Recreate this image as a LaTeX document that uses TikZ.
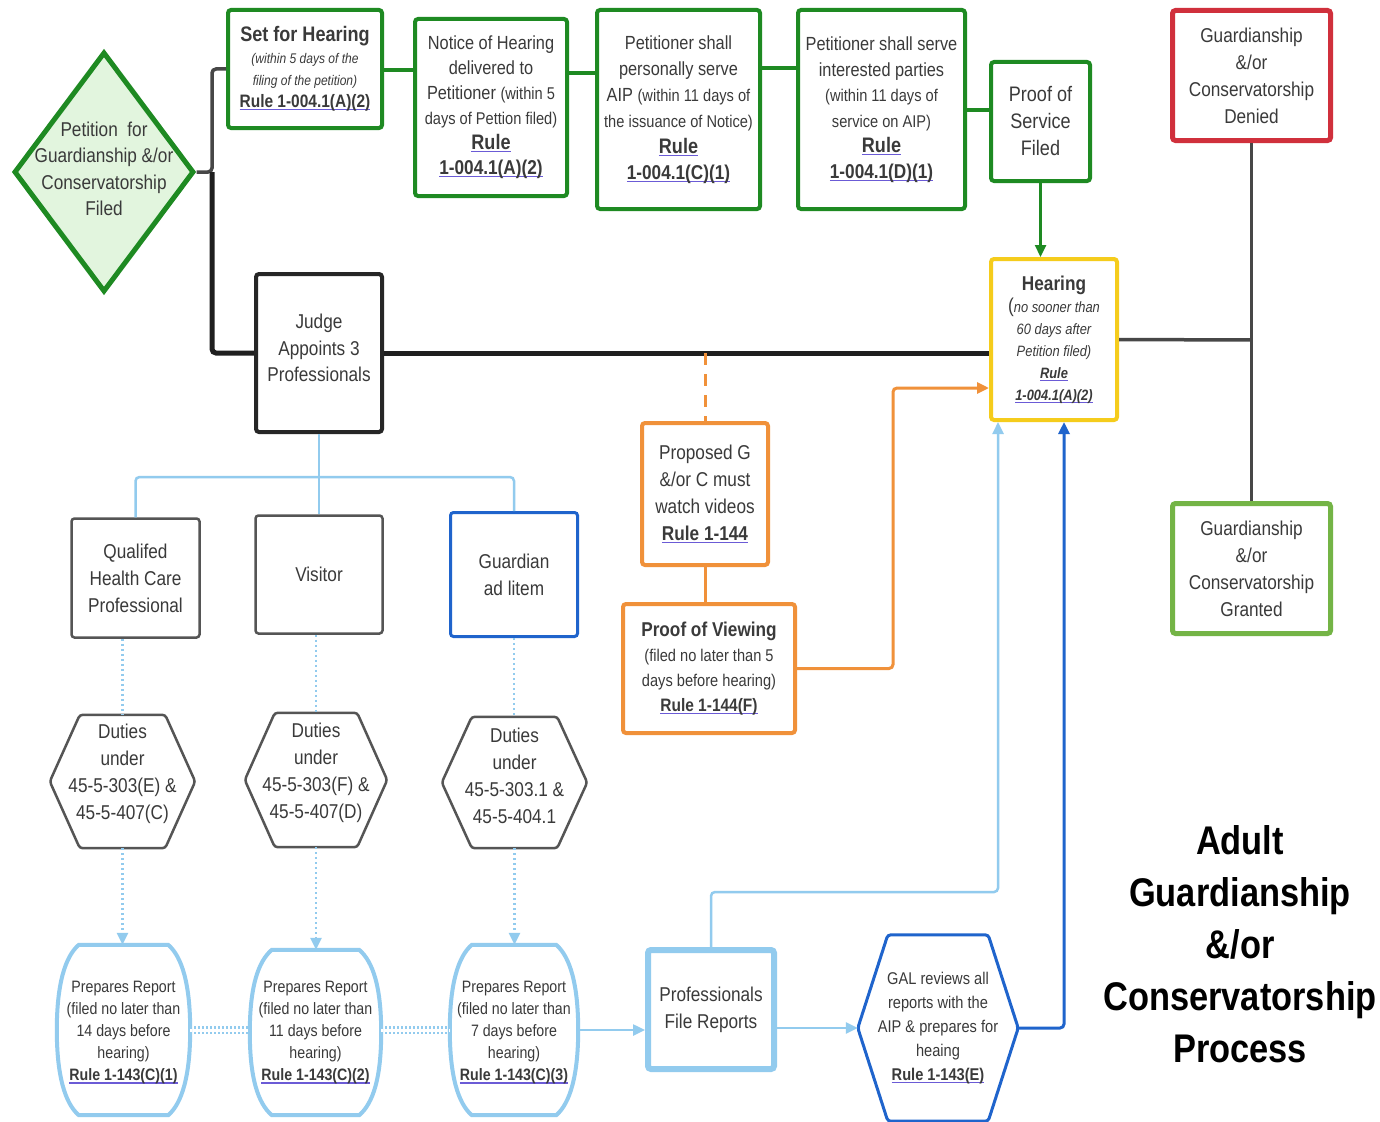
\documentclass[tikz,border=0pt]{standalone}
\usepackage{fontspec}
\setmainfont{Liberation Sans}[FakeStretch=0.86]
\usetikzlibrary{shapes.geometric,arrows.meta}
\definecolor{gbord}{HTML}{1E8A22}
\definecolor{gfill}{HTML}{E2F5DE}
\definecolor{redb}{HTML}{D0303C}
\definecolor{yelb}{HTML}{F5CC1C}
\definecolor{lgreen}{HTML}{74B446}
\definecolor{orb}{HTML}{F0913A}
\definecolor{lblue}{HTML}{92CBEE}
\definecolor{dblue}{HTML}{1F64CC}
\definecolor{txt}{HTML}{3A3A3A}
\definecolor{gbox}{HTML}{555555}
\definecolor{ulc}{HTML}{6B5BD6}
\newcommand\rul[1]{\setbox0\hbox{#1}\rlap{\color{ulc}\rule[-2.6pt]{\wd0}{1.1pt}}\box0}
\newcommand\fs[2]{\fontsize{#1}{#2}\selectfont}
\newcommand\hexat[3]{\draw[#3] ([xshift=#2]#1.north west) -- ([xshift=-#2]#1.north east) -- (#1.east) -- ([xshift=-#2]#1.south east) -- ([xshift=#2]#1.south west) -- (#1.west) -- cycle;}
\newcommand\barrel[2]{\draw[#2] ([xshift=22]#1.north west) -- ([xshift=-22]#1.north east) .. controls +(14,12) and +(0,-45) .. (#1.east) .. controls +(0,45) and +(14,-12) .. ([xshift=-22]#1.south east) -- ([xshift=22]#1.south west) .. controls +(-14,-12) and +(0,45) .. (#1.west) .. controls +(0,-45) and +(-14,12) .. ([xshift=22]#1.north west) -- cycle;}
\begin{document}
\begin{tikzpicture}[x=1pt,y=-1pt,
  sz/.style 2 args={minimum width=#1, minimum height=#2},
  box/.style={draw, rounded corners=3, align=center, inner sep=0pt, text=txt},
  gbx/.style={box, draw=gbord, line width=4},
  plain/.style={align=center, inner sep=0pt, text=txt},
  arr/.style={-{Triangle[length=12,width=11]}},
  dk/.style={draw=black!72, line width=3.5, rounded corners=4},
  blk/.style={draw=black!88, line width=5, rounded corners=4},
  gl/.style={draw=gbord, line width=3.5},
  ol/.style={draw=orb, line width=3},
  lb/.style={draw=lblue, line width=2.5},
  dl/.style={draw=lblue, line width=2.5, dash pattern=on 2 off 3},
  db/.style={draw=dblue, line width=3},
  dd/.style={draw=lblue, line width=2.5, double=white, double distance=3, dash pattern=on 2 off 2},
]
\fill[white] (0,0) rectangle (1380,1121);
\useasboundingbox (0,0) rectangle (1380,1121);

% diamond
\node[diamond, draw=gbord, fill=gfill, line width=5, minimum width=180, minimum height=240, inner sep=0pt] (pet) at (104,172) {};
\node[plain, font=\fs{20}{26.5}] (pettext) at (104,169) {Petition\ \ for\\Guardianship \&/or\\Conservatorship\\Filed};

% top row
\node[gbx, sz={154}{118}, font=\fs{14}{22}] (set) at (305,69) {{\fs{21}{21}\bfseries Set for Hearing}\\{\itshape (within 5 days of the}\\{\itshape filing of the petition)}\\{\fs{18}{18}\bfseries\rul{Rule 1-004.1(A)(2)}}};
\node[gbx, sz={152}{177}, font=\fs{19}{25}] (notice) at (491,107.5) {Notice of Hearing\\delivered to\\Petitioner {\fs{17}{17}(within 5}\\{\fs{17}{17}days of Pettion filed)}\\{\fs{21}{21}\bfseries\rul{Rule}}\\{\fs{20}{20}\bfseries\rul{1-004.1(A)(2)}}};
\node[gbx, sz={163}{199}, font=\fs{19}{26}] (serve) at (678.5,109.5) {Petitioner shall\\personally serve\\AIP {\fs{17}{17}(within 11 days of}\\{\fs{17}{17}the issuance of Notice)}\\{\fs{21}{21}\bfseries\rul{Rule}}\\{\fs{20}{20}\bfseries\rul{1-004.1(C)(1)}}};
\node[gbx, sz={167}{199}, font=\fs{19}{25.5}] (parties) at (881.5,109.5) {Petitioner shall serve\\interested parties\\{\fs{17}{17}(within 11 days of}\\{\fs{17}{17}service on AIP)}\\{\fs{21}{21}\bfseries\rul{Rule}}\\{\fs{20}{20}\bfseries\rul{1-004.1(D)(1)}}};
\node[gbx, sz={99}{119}, font=\fs{21}{27}] (proof) at (1040.5,121.5) {Proof of\\Service\\Filed};

% right column
\node[box, draw=yelb, line width=4, sz={126}{161}, font=\fs{15}{22}] (hearing) at (1054,339.5) {{\fs{20}{20}\bfseries Hearing}\\{\fs{20}{20}(}{\itshape no sooner than}\\{\itshape 60 days after}\\{\itshape Petition filed)}\\{\bfseries\itshape\rul{Rule}}\\{\bfseries\itshape\rul{1-004.1(A)(2)}}};
\node[box, draw=redb, line width=5, sz={158}{130}, font=\fs{20}{27}] (denied) at (1251.5,75.5) {Guardianship\\\&/or\\Conservatorship\\Denied};
\node[box, draw=lgreen, line width=5, sz={158}{130}, font=\fs{20}{27}] (granted) at (1251.5,568.5) {Guardianship\\\&/or\\Conservatorship\\Granted};

% judge
\node[box, draw=black!85, line width=4, sz={126}{158}] (judge) at (319,353) {};
\node[plain, font=\fs{20}{26.5}] (judget) at (319,348) {Judge\\Appoints 3\\Professionals};

% orange
\node[box, draw=orb, line width=4, sz={126}{142}, font=\fs{20}{27}] (prop) at (705,494) {Proposed G\\\&/or C must\\watch videos\\{\bfseries\rul{Rule 1-144}}};
\node[box, draw=orb, line width=4, sz={172}{129}, font=\fs{17}{25}] (pov) at (709,668.5) {{\fs{20}{20}\bfseries Proof of Viewing}\\(filed no later than 5\\days before hearing)\\{\fs{18}{18}\bfseries\rul{Rule 1-144(F)}}};

% professionals
\node[box, draw=gbox, line width=2.5, sz={128}{119}, font=\fs{20}{27}] (qhcp) at (135.5,578) {Qualifed\\Health Care\\Professional};
\node[box, draw=gbox, line width=2.5, sz={127}{118}, font=\fs{20}{27}] (visitor) at (319,574.5) {Visitor};
\node[box, draw=dblue, line width=3, sz={127}{124}, font=\fs{20}{27}] (gal) at (514,574.5) {Guardian\\ad litem};

% hexagons
\node[plain, sz={145}{133}] (hx1) at (122.5,781.5) {};
\node[plain, sz={142}{134}] (hx2) at (316,780) {};
\node[plain, sz={145}{131}] (hx3) at (514.5,782.5) {};
\hexat{hx1}{30}{draw=gbox, line width=2.5, rounded corners=3}
\hexat{hx2}{30}{draw=gbox, line width=2.5, rounded corners=3}
\hexat{hx3}{30}{draw=gbox, line width=2.5, rounded corners=3}
\node[plain, font=\fs{20}{27}] (hx1t) at (122.5,774) {Duties\\under\\45-5-303(E) \&\\45-5-407(C)};
\node[plain, font=\fs{20}{27}] (hx2t) at (316,772.5) {Duties\\under\\45-5-303(F) \&\\45-5-407(D)};
\node[plain, font=\fs{20}{27}] (hx3t) at (514.5,776) {Duties\\under\\45-5-303.1 \&\\45-5-404.1};

% reports
\node[plain, sz={133}{170}] (r1) at (123.5,1030) {};
\node[plain, sz={131}{165}] (r2) at (315.5,1032.5) {};
\node[plain, sz={128}{170}] (r3) at (514,1030) {};
\barrel{r1}{draw=lblue, line width=4}
\barrel{r2}{draw=lblue, line width=4}
\barrel{r3}{draw=lblue, line width=4}
\node[plain, font=\fs{16.5}{22}] (r1t) at (123.5,1033) {Prepares Report\\(filed no later than\\14 days before\\hearing)\\{\bfseries\rul{Rule 1-143(C)(1)}}};
\node[plain, font=\fs{16.5}{22}] (r2t) at (315.5,1033) {Prepares Report\\(filed no later than\\11 days before\\hearing)\\{\bfseries\rul{Rule 1-143(C)(2)}}};
\node[plain, font=\fs{16.5}{22}] (r3t) at (514,1033) {Prepares Report\\(filed no later than\\7 days before\\hearing)\\{\bfseries\rul{Rule 1-143(C)(3)}}};

\node[box, draw=lblue, line width=6, sz={126}{119}, font=\fs{20}{27}] (pfr) at (711,1009.5) {Professionals\\File Reports};
\node[plain, sz={160}{186}, font=\fs{17}{24}] (ghx) at (938,1028) {GAL reviews all\\reports with the\\AIP \& prepares for\\heaing\\{\bfseries\rul{Rule 1-143(E)}}};
\hexat{ghx}{30}{draw=dblue, line width=3, rounded corners=3}

% title
\node[align=center, inner sep=0pt, font=\fs{40}{52}\bfseries, text=black] (title) at (1240,944) {Adult\\Guardianship\\\&/or\\Conservatorship\\Process};

% connectors: black
\coordinate (jn) at (212,172);
\draw[dk] (set.west) -| (jn) -- (pet.east);
\draw[blk] (jn) |- (judge.west);
\draw[blk] (judge.east) -- (judge.east -| hearing.west);
\coordinate (dg) at (1251,340);
\draw[dk] (hearing.east) -- (dg);
\draw[dk] (denied.south) -- (granted.north);

% green
\draw[gl] (set.east |- 0,70) -- (notice.west |- 0,70);
\draw[gl] (notice.east |- 0,73) -- (serve.west |- 0,73);
\draw[gl] (serve.east |- 0,68) -- (parties.west |- 0,68);
\draw[gl] (parties.east |- 0,110) -- (proof.west |- 0,110);
\draw[draw=gbord, line width=2.5, arr] (proof.south) -- (proof.south |- hearing.north);

% orange
\draw[ol, dash pattern=on 12 off 9] (prop.north |- judge.east) -- (prop.north);
\draw[ol] (prop.south) -- (prop.south |- pov.north);
\coordinate (ob) at (893,388);
\draw[ol, arr, rounded corners=4] (pov.east) -| (ob) -- (ob -| hearing.west);

% light blue tree
\coordinate (tj) at (319,477);
\draw[lb] (judge.south) -- (tj) -- (visitor.north);
\draw[lb, rounded corners=4] (qhcp.north) |- (tj) -| (gal.north);
\draw[dl] (qhcp.south -| hx1.north) -- (hx1.north);
\draw[dl] (visitor.south -| hx2.north) -- (hx2.north);
\draw[dl] (gal.south) -- (gal.south |- hx3.north);
\draw[dl, arr] (hx1.south) -- (hx1.south |- r1.north);
\draw[dl, arr] (hx2.south) -- (hx2.south |- r2.north);
\draw[dl, arr] (hx3.south) -- (hx3.south |- r3.north);
\draw[dd] (r1.east |- 0,1030) -- (r2.west |- 0,1030);
\draw[dd] (r2.east |- 0,1030) -- (r3.west |- 0,1030);
\draw[lb, arr] (r3.east |- 0,1030) -- (pfr.west |- 0,1030);
\draw[lb, arr] (pfr.east |- ghx.west) -- (ghx.west);
\coordinate (lbend) at (998,892);
\draw[lb, arr, rounded corners=4] (pfr.north) |- (lbend) -- (lbend |- hearing.south);
\coordinate (dbend) at (1064,1028);
\draw[db, arr, rounded corners=4] (ghx.east) -- (dbend) -- (dbend |- hearing.south);
\end{tikzpicture}
\end{document}
